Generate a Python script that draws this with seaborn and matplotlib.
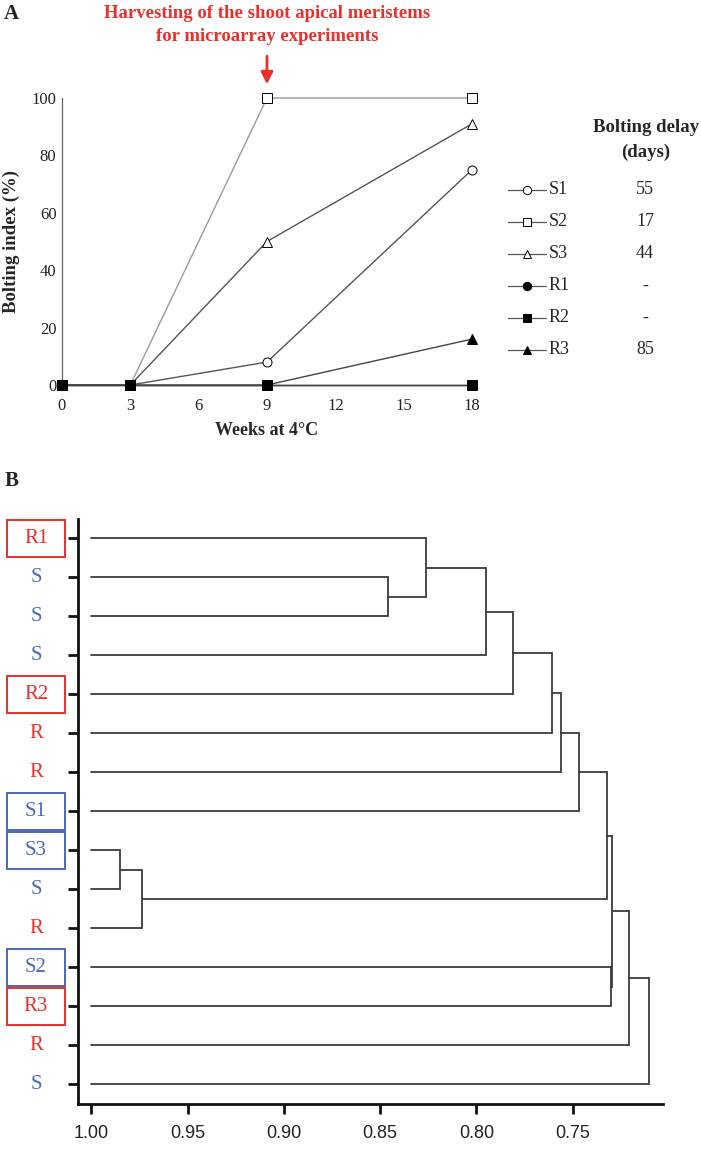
import numpy as np
import pandas as pd
import matplotlib
matplotlib.use('Agg')
import matplotlib.pyplot as plt
import seaborn as sns
from matplotlib.patches import Rectangle
from matplotlib.lines import Line2D

sns.set_theme(style='white')
plt.rcParams['font.family'] = ['Liberation Serif', 'DejaVu Serif']

# ---- panel A : bolting index ----
weeks = [0, 3, 9, 18]
series_names = ['S1', 'S2', 'S3', 'R1', 'R2', 'R3']
bolt_s1 = [0, 0, 8, 75]
bolt_s2 = [0, 0, 100, 100]
bolt_s3 = [0, 0, 50, 91]
bolt_r1 = [0, 0, 0, 0]
bolt_r2 = [0, 0, 0, 0]
bolt_r3 = [0, 0, 0, 16]
bolting_delay = ['55', '17', '44', '-', '-', '85']
x_ticks_a = [0, 3, 6, 9, 12, 15, 18]
y_ticks_a = [0, 20, 40, 60, 80, 100]

# ---- panel B : dendrogram ----
leaf_labels = ['R1', 'S', 'S', 'S', 'R2', 'R', 'R', 'S1', 'S3', 'S', 'R', 'S2', 'R3', 'R', 'S']
# merges : node index < 15 is a leaf, 15 + k is the k-th merge
merge_left = [1, 0, 16, 17, 18, 19, 20, 8, 22, 21, 11, 24, 26, 27]
merge_right = [2, 15, 3, 4, 5, 6, 7, 9, 10, 23, 12, 25, 13, 14]
merge_height = [0.846, 0.826, 0.795, 0.781, 0.761, 0.756, 0.747,
                0.985, 0.974, 0.732, 0.730, 0.7295, 0.721, 0.7105]
x_ticks_b = [1.00, 0.95, 0.90, 0.85, 0.80, 0.75]

RED = '#e8302c'
BLUE = '#4a68b8'

fig = plt.figure(figsize=(7.01, 11.5), dpi=100)

# ================= panel A =================
ax = fig.add_axes([0.0884, 0.6652, 0.5849, 0.2496])

styles = {
    'S1': dict(marker='o', mfc='white', color='#555555'),
    'S2': dict(marker='s', mfc='white', color='#9a9a9a'),
    'S3': dict(marker='^', mfc='white', color='#555555'),
    'R1': dict(marker='o', mfc='black', color='#444444'),
    'R2': dict(marker='s', mfc='black', color='#444444'),
    'R3': dict(marker='^', mfc='black', color='#444444'),
}
values = [bolt_s1, bolt_s2, bolt_s3, bolt_r1, bolt_r2, bolt_r3]
df = pd.DataFrame({
    'week': weeks * len(series_names),
    'index': sum(values, []),
    'line': np.repeat(series_names, len(weeks)),
})

draw_order = ['S1', 'S2', 'S3', 'R1', 'R3', 'R2']
for name in draw_order:
    st = styles[name]
    sub = df[df['line'] == name]
    sns.lineplot(data=sub, x='week', y='index', ax=ax, color=st['color'],
                 lw=1.0, marker=st['marker'], markersize=6.5,
                 markerfacecolor=st['mfc'], markeredgecolor='black',
                 markeredgewidth=0.7, clip_on=False, zorder=3)

ax.set_xlim(0, 18)
ax.set_ylim(0, 100)
ax.set_xticks(x_ticks_a)
ax.set_yticks(y_ticks_a)
ax.tick_params(length=0, labelsize=12, colors='#222222')
ax.tick_params(axis='x', pad=9)
ax.tick_params(axis='y', pad=4)
for s in ['top', 'right']:
    ax.spines[s].set_visible(False)
for s in ['left', 'bottom']:
    ax.spines[s].set_color('#666666')
    ax.spines[s].set_linewidth(0.9)
ax.set_xlabel('Weeks at 4°C', fontsize=13, fontweight='bold', labelpad=6)
ax.set_ylabel('Bolting index (%)', fontsize=13.5, fontweight='bold', labelpad=8)
ax.grid(False)

# harvest annotation
ax.text(9, 129.5, 'Harvesting of the shoot apical meristems', ha='center', va='center',
        color=RED, fontsize=13.5, fontweight='bold', clip_on=False)
ax.text(9, 121.5, 'for microarray experiments', ha='center', va='center',
        color=RED, fontsize=13.5, fontweight='bold', clip_on=False)
ax.annotate('', xy=(9, 103.8), xytext=(9, 115.5), annotation_clip=False,
            arrowprops=dict(arrowstyle='-|>,head_length=0.6,head_width=0.3',
                            color=RED, lw=2))

# legend with bolting delay column
fig.text(646 / 701, 1 - 128 / 1150, 'Bolting delay', ha='center', va='center',
         fontsize=13.5, fontweight='bold')
fig.text(646 / 701, 1 - 152 / 1150, '(days)', ha='center', va='center',
         fontsize=13.5, fontweight='bold')
row0, row_step = 190, 32
for i, name in enumerate(series_names):
    st = styles[name]
    y = 1 - (row0 + i * row_step) / 1150
    fig.add_artist(Line2D([508 / 701, 527 / 701, 546 / 701], [y, y, y],
                          transform=fig.transFigure, color='#555555', lw=0.9,
                          marker=st['marker'], markevery=[1], markersize=6,
                          markerfacecolor=st['mfc'], markeredgecolor='black',
                          markeredgewidth=0.7))
    fig.text(549 / 701, y, name, ha='left', va='center', fontsize=13)
    fig.text(645 / 701, y, bolting_delay[i], ha='center', va='center', fontsize=13)

fig.text(0.006, 1 - 14 / 1150, 'A', fontsize=15, fontweight='bold', va='center')
fig.text(0.006, 1 - 481 / 1150, 'B', fontsize=15, fontweight='bold', va='center')

# ================= panel B =================
bx = fig.add_axes([0.1113, 0.0400, 0.8345, 0.5087])
n_leaf = len(leaf_labels)
pos = {i: (1.0, float(i)) for i in range(n_leaf)}
for k, (a, b, h) in enumerate(zip(merge_left, merge_right, merge_height)):
    xa, ya = pos[a]
    xb, yb = pos[b]
    bx.plot([xa, h, h, xb], [ya, ya, yb, yb], color='#3c3c3c', lw=1.3,
            solid_joinstyle='miter')
    pos[n_leaf + k] = (h, (ya + yb) / 2)

bx.set_xlim(1.007, 0.7031)
bx.set_ylim(n_leaf - 0.5, -0.5)
bx.set_xticks(x_ticks_b)
bx.set_xticklabels([f'{v:.2f}' for v in x_ticks_b], family='Liberation Sans',
                   fontsize=13, color='#222222')
bx.set_yticks(range(n_leaf))
bx.set_yticklabels([])
bx.tick_params(axis='both', length=7, width=2, color='#111111', direction='out',
               bottom=True, left=True)
bx.tick_params(axis='x', pad=8)
for s in ['top', 'right']:
    bx.spines[s].set_visible(False)
for s in ['left', 'bottom']:
    bx.spines[s].set_color('#111111')
    bx.spines[s].set_linewidth(2)
bx.grid(False)

ytr = bx.get_yaxis_transform()
for i, lab in enumerate(leaf_labels):
    col = RED if lab.startswith('R') else BLUE
    bx.text(-42 / 585, i, lab, transform=ytr, ha='center', va='center',
            fontsize=15, color=col, clip_on=False)
    if len(lab) > 1:
        bx.add_patch(Rectangle((-71.3 / 585, i - 0.47), 58.6 / 585, 0.94,
                               transform=ytr, fill=False, edgecolor=col,
                               lw=1.4, clip_on=False))

fig.savefig('out.png', dpi=100)
